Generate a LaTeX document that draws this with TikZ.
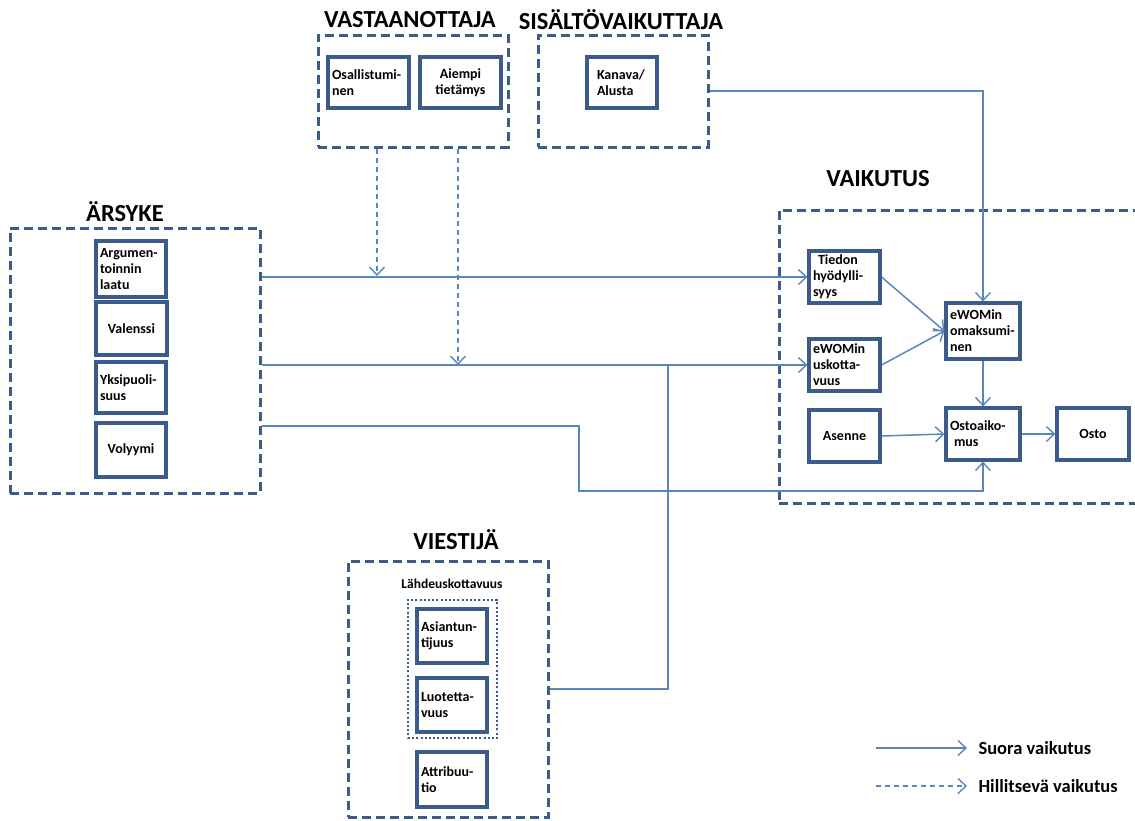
\documentclass[tikz,border=0pt]{standalone}
\usepackage{fontspec}
\setmainfont{Carlito}
\usetikzlibrary{arrows.meta}
\definecolor{boxc}{HTML}{3B5B8A}
\definecolor{linec}{HTML}{5A86BE}
\begin{document}
\begin{tikzpicture}[x=1pt,y=-1pt,
 grp/.style={draw=boxc, line width=3pt, dash pattern=on 9pt off 5pt, inner sep=0pt},
 dotgrp/.style={draw=boxc, line width=2.6pt, dash pattern=on 2pt off 2.2pt, inner sep=0pt},
 ib/.style={draw=boxc, line width=3.2pt, fill=white, font=\bfseries\fontsize{14}{16}\selectfont, inner sep=3pt},
 ibl/.style={ib, align=left},
 ibc/.style={ib, align=center},
 ttl/.style={font=\bfseries\fontsize{24.5}{28}\selectfont},
 lbl/.style={font=\bfseries\fontsize{13.5}{16}\selectfont},
 leg/.style={font=\bfseries\fontsize{18.5}{22}\selectfont, anchor=west},
 tip/.style={-{Straight Barb[length=8pt,width=15pt,line width=1.4pt]}},
 conn/.style={draw=linec, line width=1.5pt},
 aconn/.style={conn, tip},
 dconn/.style={draw=linec, line width=1.4pt, dash pattern=on 5pt off 4pt, tip}]
\useasboundingbox (0,0) rectangle (1135,820);
\clip (0,0) rectangle (1135,820);
\fill[white] (0,0) rectangle (1135,820);

% group boxes
\node[grp, minimum width=250pt, minimum height=265pt] (ars) at (135,360.5) {};
\node[grp, minimum width=190pt, minimum height=112pt] (vas) at (413,91) {};
\node[grp, minimum width=170pt, minimum height=112pt] (sis) at (623,91) {};
\node[grp, minimum width=371pt, minimum height=293pt] (vai) at (964.5,356.5) {};
\node[grp, minimum width=200pt, minimum height=256pt] (vie) at (448,689) {};
\node[dotgrp, minimum width=89pt, minimum height=138pt] (ldot) at (452.5,669) {};

% titles
\node[ttl] (tars) at (125,212) {ÄRSYKE};
\node[ttl] (tvas) at (410,20) {VASTAANOTTAJA};
\node[ttl] (tsis) at (621,20) {SISÄLTÖVAIKUTTAJA};
\node[ttl] (tvai) at (878,179) {VAIKUTUS};
\node[ttl] (tvie) at (456,540) {VIESTIJÄ};
\node[lbl] (lahde) at (452,584) {Lähdeuskottavuus};

% inner boxes
\node[ibl, minimum width=70pt, minimum height=56pt, text width=62pt] (arg) at (131,269) {Argumen-\\toinnin\\laatu};
\node[ibc, minimum width=71pt, minimum height=53pt, text width=63pt] (val) at (131.5,328.5) {Valenssi};
\node[ibl, minimum width=70pt, minimum height=51pt, text width=62pt] (yks) at (131,387.5) {Yksipuoli-\\suus};
\node[ibc, minimum width=70pt, minimum height=54pt, text width=62pt] (vol) at (131,450) {Volyymi};

\node[ibl, minimum width=81pt, minimum height=51pt, text width=73pt] (osa) at (368.5,82.5) {Osallistumi-\\nen};
\node[ibc, minimum width=81pt, minimum height=51pt, text width=73pt] (aie) at (460.5,82.5) {Aiempi\\tietämys};
\node[ibl, minimum width=70pt, minimum height=51pt, text width=50pt] (kan) at (622,82.5) {Kanava/\\Alusta};

\node[ibl, minimum width=71pt, minimum height=52pt, text width=63pt] (tied) at (844.5,277) {\hspace{5pt}Tiedon\\hyödylli-\\syys};
\node[ibl, minimum width=71pt, minimum height=52pt, text width=63pt] (usk) at (844.5,365) {eWOMin\\uskotta-\\vuus};
\node[ibc, minimum width=71pt, minimum height=52pt, text width=63pt] (ase) at (844.5,436) {Asenne};
\node[ibl, minimum width=74pt, minimum height=56pt, text width=66pt] (omak) at (983,331) {eWOMin\\omaksumi-\\nen};
\node[ibl, minimum width=74pt, minimum height=52pt, text width=66pt] (osta) at (983,434) {Ostoaiko-\\\hspace{4pt}mus};
\node[ibc, minimum width=72pt, minimum height=52pt, text width=64pt] (osto) at (1093,434) {Osto};

\node[ibl, minimum width=70pt, minimum height=54pt, text width=62pt] (asi) at (452,636) {Asiantun-\\tijuus};
\node[ibl, minimum width=70pt, minimum height=54pt, text width=62pt] (luo) at (452,705) {Luotetta-\\vuus};
\node[ibl, minimum width=70pt, minimum height=55pt, text width=62pt] (att) at (452,779.5) {Attribuu-\\tio};

% helper coordinates
\coordinate (k1) at (579,426);
\coordinate (k2) at (579,491);
\coordinate (d1) at (377,276);
\coordinate (d2) at (458,365);
\coordinate (j1) at (668,365);

% connectors
\draw[aconn] (ars.east |- tied.west) -- (tied.west);
\draw[aconn] (ars.east |- usk.west) -- (usk.west);
\draw[aconn] (ars.east |- k1) -- (k1) -- (k2) -| (osta.south);
\draw[conn] (vie.east) -| (j1);
\draw[aconn] (sis.east) -| (omak.north);
\draw[dconn] (vas.south -| d1) -- (d1);
\draw[dconn] (vas.south -| d2) -- (d2);
\draw[aconn] (tied.east) -- (omak.west);
\draw[aconn] (usk.east) -- (omak.west);
\draw[aconn] (omak.south) -- (osta.north);
\draw[aconn] (ase.east) -- (osta.west);
\draw[aconn] (osta.east) -- (osto.west);

% legend
\coordinate (la1) at (876,748);
\coordinate (la2) at (967,748);
\coordinate (lb1) at (876,786);
\coordinate (lb2) at (967,786);
\draw[aconn] (la1) -- (la2);
\draw[dconn] (lb1) -- (lb2);
\node[leg] (lega) at (975,748) {Suora vaikutus};
\node[leg] (legb) at (975,786) {Hillitsevä vaikutus};
\end{tikzpicture}
\end{document}
